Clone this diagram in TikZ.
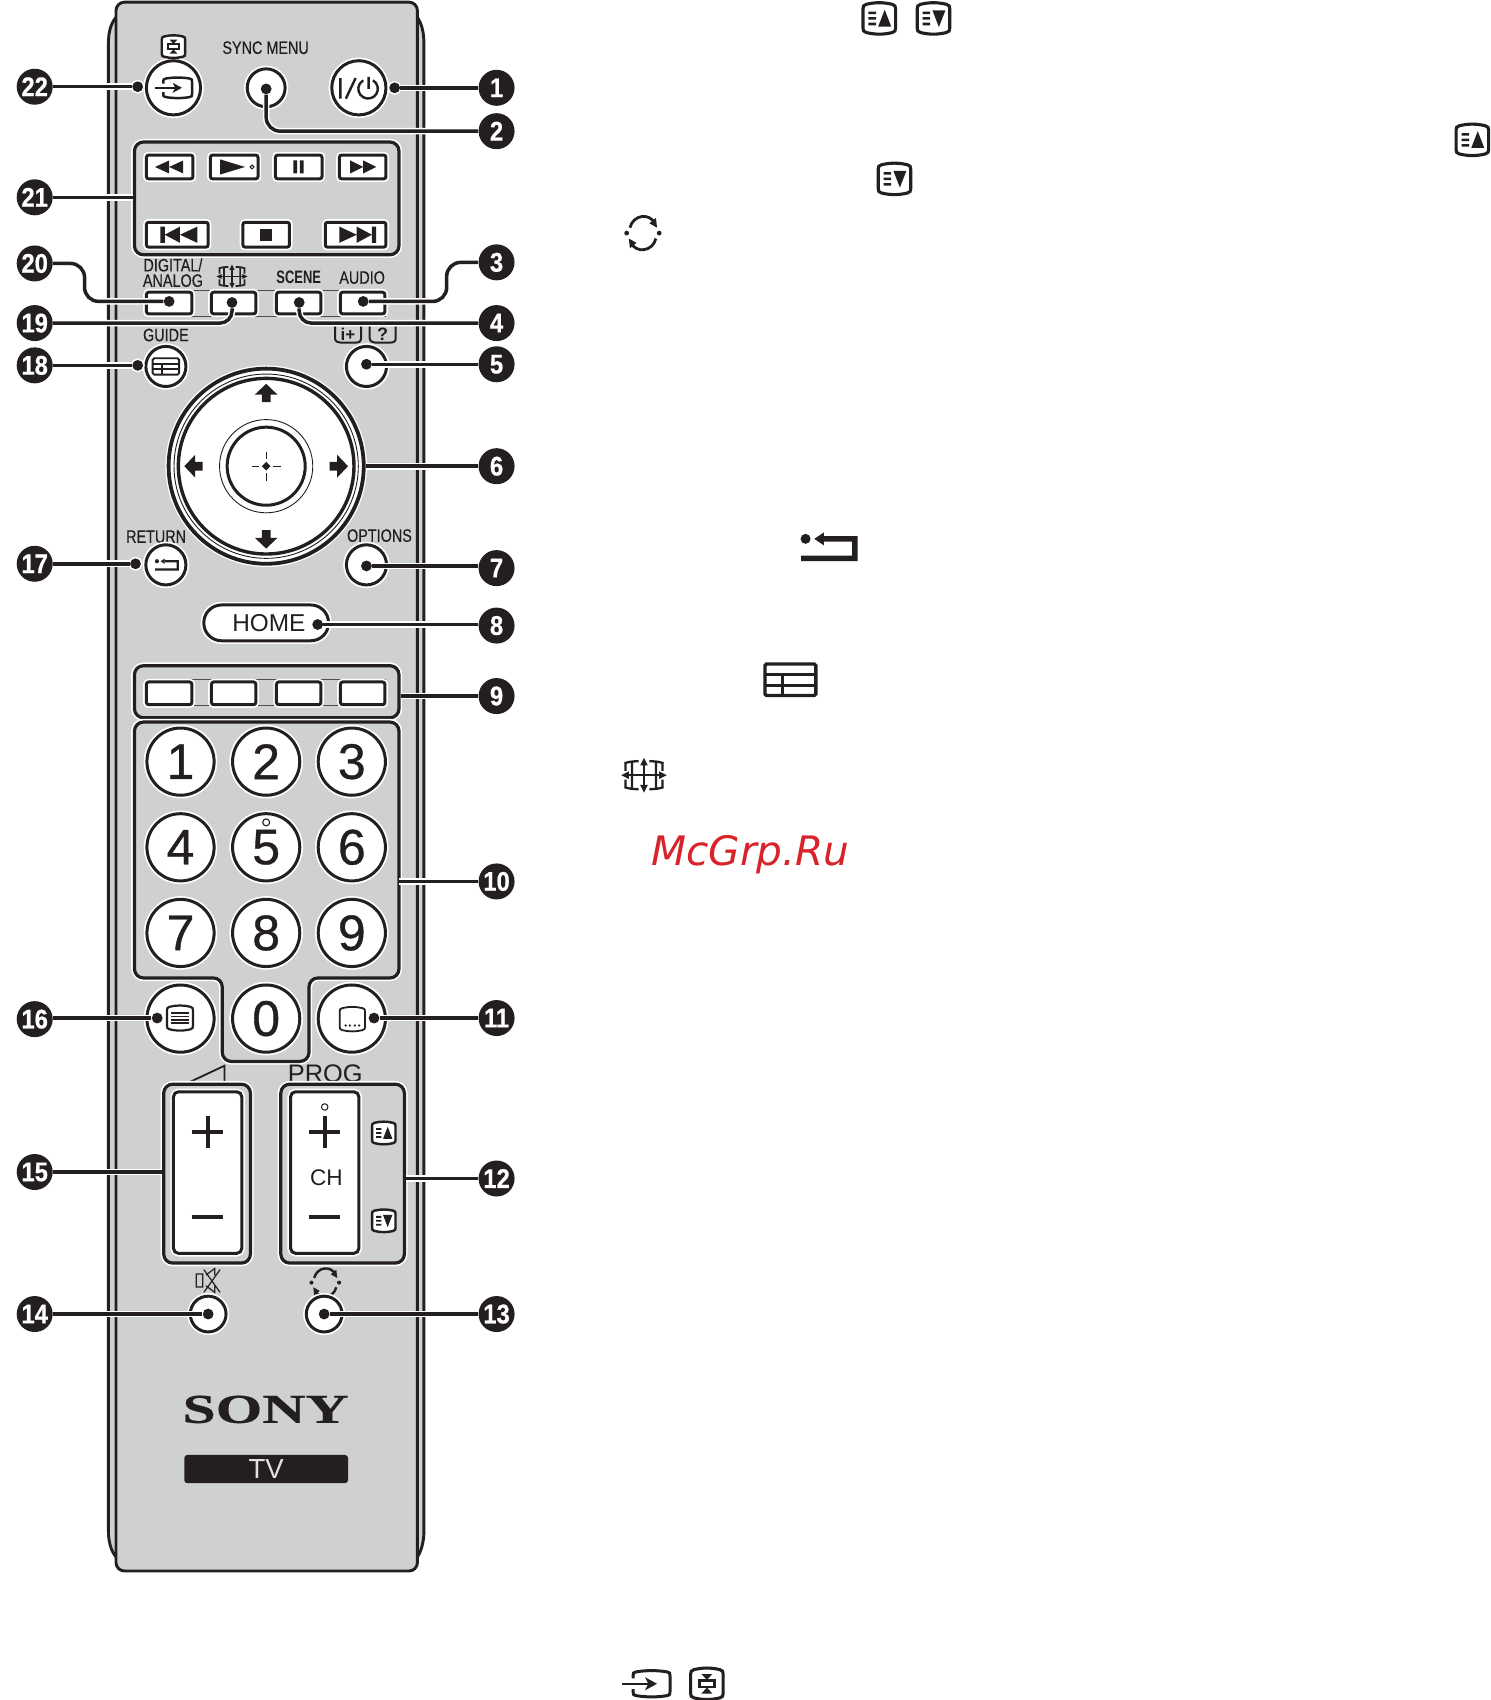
\documentclass[tikz,border=0pt]{standalone}
\usepackage{fontspec}
\setmainfont{Liberation Sans}
\newfontfamily\cond[FakeStretch=0.8,FakeBold=0.35]{Liberation Sans}
\newfontfamily\condb[FakeStretch=0.72]{Liberation Sans Bold}
\newfontfamily\badgef[FakeStretch=0.88,FakeBold=0.6]{Liberation Sans Bold}
\newfontfamily\sonyf[FakeStretch=1.46,FakeBold=0.5]{Liberation Serif Bold}
\newfontfamily\digf[FakeBold=0.7]{Liberation Sans}
\newfontfamily\wmf{DejaVu Sans}
\definecolor{ink}{HTML}{231F20}
\definecolor{bodyg}{HTML}{CFD0D2}
\definecolor{wmred}{HTML}{D8232A}
\newcommand\barrel[1]{\draw[draw=ink,fill=white,#1] (-12,-13) .. controls (-4,-15) and (4,-15) .. (12,-13) .. controls (14.5,-12.5) and (15,-11) .. (15,-9) -- (15,9) .. controls (15,11) and (14.5,12.5) .. (12,13) .. controls (4,15) and (-4,15) .. (-12,13) .. controls (-14.5,12.5) and (-15,11) .. (-15,9) -- (-15,-9) .. controls (-15,-11) and (-14.5,-12.5) .. (-12,-13) -- cycle;}
\tikzset{
  x=0.5422pt,y=-0.5422pt,
  halo/.style={preaction={draw=white,line width=3.2pt}},
  btn/.style={circle,draw=ink,fill=white,line width=1.5pt,minimum size=#1*1.0844pt,inner sep=0pt,halo,font=\fontsize{25}{25}\selectfont\digf,text=ink},
  rb/.style 2 args={rectangle,rounded corners=1.2pt,draw=ink,fill=white,line width=1.5pt,minimum width=#1*0.5422pt,minimum height=#2*0.5422pt,inner sep=0pt,halo},
  panel/.style 2 args={rectangle,rounded corners=4.5pt,draw=ink,fill=bodyg,line width=1.6pt,minimum width=#1*0.5422pt,minimum height=#2*0.5422pt,inner sep=0pt,halo},
  badge/.style={circle,fill=ink,minimum size=18pt,inner sep=0pt,text=white,font=\fontsize{13.5}{13.5}\selectfont\badgef},
  dotn/.style={circle,fill=ink,minimum size=5.4pt,inner sep=0pt,preaction={draw=white,line width=1.6pt}},
  conn/.style={draw=ink,line width=1.75pt,preaction={draw=white,line width=3.3pt}},
  lab/.style={text=ink,inner sep=0pt,font=\fontsize{9}{9.2}\selectfont\cond,align=center},
  sans/.style={text=ink,inner sep=0pt,font=\fontsize{#1}{#1}\selectfont},
  blk/.style={fill=ink,draw=none},
  thinl/.style={draw=ink!80,line width=0.5pt},
  pics/gup/.style={code={\begin{scope}[scale=#1]
    \barrel{line width=#1*1.2pt+0.35pt}
    \fill[ink] (-10,-6.3) rectangle (-3,-3.9) (-10,-1.2) rectangle (-3,1.2) (-10,3.9) rectangle (-3,6.3);
    \fill[ink] (-1,7.5) -- (11,7.5) -- (5,-8) -- cycle;
  \end{scope}}},
  pics/gdown/.style={code={\begin{scope}[scale=#1]
    \barrel{line width=#1*1.2pt+0.35pt}
    \fill[ink] (-10,-6.3) rectangle (-3,-3.9) (-10,-1.2) rectangle (-3,1.2) (-10,3.9) rectangle (-3,6.3);
    \fill[ink] (-1,-7.5) -- (11,-7.5) -- (5,8) -- cycle;
  \end{scope}}},
  pics/gcycle/.style={code={\begin{scope}[scale=#1]
    \draw[ink,line width=#1*1.2pt+0.2pt] (-12,-5) .. controls (-9,-17) and (6,-19) .. (11,-9);
    \draw[ink,line width=#1*1.2pt+0.2pt] (12,5) .. controls (9,17) and (-6,19) .. (-11,9);
    \fill[ink] (13,-5) -- (6,-9) -- (12,-14) -- cycle;
    \fill[ink] (-13,5) -- (-6,9) -- (-12,14) -- cycle;
    \fill[ink] (-15,0) circle[radius=2.2] (15,0) circle[radius=2.2];
  \end{scope}}},
  pics/gret/.style={code={\begin{scope}[scale=#1]
    \fill[ink] (-22,-8) circle[radius=4.6];
    \fill[ink] (-14,-8) -- (-5,-14) -- (-5,-2) -- cycle;
    \fill[ink] (-5,-10.5) -- (26,-10.5) -- (26,12.5) -- (-26,12.5) -- (-26,7.5) -- (21,7.5) -- (21,-5.5) -- (-5,-5.5) -- cycle;
  \end{scope}}},
  pics/gguide/.style={code={\begin{scope}[scale=#1]
    \draw[ink,line width=#1*1.5pt+0.15pt,rounded corners=0.8pt] (-23.5,-14.5) rectangle (23.5,14.5);
    \draw[ink,line width=#1*1.5pt+0.15pt] (-23.5,-5) -- (23.5,-5) (-23.5,5) -- (23.5,5) (-7,-5) -- (-7,14.5);
  \end{scope}}},
  pics/gwide/.style={code={\begin{scope}[scale=#1]
    \draw[ink,line width=#1*0.8pt+0.25pt] (-17,0) -- (17,0) (0,-12) -- (0,12);
    \fill[ink] (-21,0) -- (-14,-3.5) -- (-14,3.5) -- cycle (21,0) -- (14,-3.5) -- (14,3.5) -- cycle;
    \fill[ink] (0,-16) -- (-3.5,-9) -- (3.5,-9) -- cycle (0,16) -- (-3.5,9) -- (3.5,9) -- cycle;
    \draw[ink,line width=#1*0.9pt+0.25pt] (-18,-11) .. controls (-13,-12.5) .. (-5,-13) (18,-11) .. controls (13,-12.5) .. (5,-13)
      (-18,11) .. controls (-13,12.5) .. (-5,13) (18,11) .. controls (13,12.5) .. (5,13)
      (-17,-11) -- (-17,-4) (17,-11) -- (17,-4) (-17,11) -- (-17,4) (17,11) -- (17,4)
      (-11,-12) -- (-11,12) (11,-12) -- (11,12);
  \end{scope}}},
  pics/ginput/.style={code={\begin{scope}[scale=#1]
    \draw[ink,line width=#1*1.2pt+0.3pt] (-12,-5) -- (-12,-8) .. controls (-12,-10) .. (-9,-11) .. controls (0,-12.5) and (10,-12.5) .. (19,-11) .. controls (22,-10) .. (22,-7) -- (22,7) .. controls (22,10) .. (19,11) .. controls (10,12.5) and (0,12.5) .. (-9,11) .. controls (-12,10) .. (-12,8) -- (-12,5);
    \draw[ink,line width=#1*1pt+0.25pt] (-22,0) -- (6,0);
    \fill[ink] (10,0) -- (-1,-6) -- (2,0) -- (-1,6) -- cycle;
  \end{scope}}},
  pics/gselect/.style={code={\begin{scope}[scale=#1]
    \barrel{line width=#1*1.2pt+0.35pt}
    \fill[ink] (-5,-9) -- (5,-9) -- (0,-3.5) -- cycle (-5,9) -- (5,9) -- (0,3.5) -- cycle;
    \draw[ink,line width=#1*1pt+0.3pt] (-7,-3) rectangle (7,3);
  \end{scope}}},
}
\begin{document}
\begin{tikzpicture}
\useasboundingbox (0,0) rectangle (1375,1568);
% body
\draw[draw=ink,fill=bodyg,line width=1.45pt] (107,16) .. controls (102,22) and (100,30) .. (100,40) -- (100,1412) .. controls (100,1421) and (102,1430) .. (107,1436) -- (385,1436) .. controls (389,1430) and (391,1421) .. (391,1412) -- (391,40) .. controls (391,30) and (389,22) .. (385,16) -- cycle;
\draw[draw=ink,fill=bodyg,line width=1.45pt,rounded corners=4.2pt] (107,2) rectangle (385,1449);
% upper buttons
\node[btn=25] (binput) at (160,81) {};
\node[btn=17.5] (bsync) at (245.5,81) {};
\node[btn=25] (bpower) at (331,81) {};
\pic at (160,81) {ginput=0.78};
\pic at (160,43) {gselect=0.72};
\node[lab] (tsync) at (245,44) {SYNC MENU};
\draw[ink,line width=1.2pt] (314,72) -- (314,91) (319,91) -- (328,72) (340,71) -- (340,82);
\draw[ink,line width=1.2pt] (344,74.1) arc[start angle=-60,end angle=240,radius=9];
% panel 21
\node[panel={244}{104}] (p21) at (246,183) {};
\node[rb={43}{22}] (brew) at (156.5,154) {};
\node[rb={44}{22}] (bplay) at (216,154) {};
\node[rb={43}{22}] (bpause) at (275.5,154) {};
\node[rb={43}{22}] (bff) at (334.5,154) {};
\node[rb={57}{23}] (bprev) at (163.5,216.5) {};
\node[rb={43}{23}] (bstop) at (245.5,216.5) {};
\node[rb={56}{23}] (bnext) at (328,216.5) {};
\fill[ink] (143,154) -- (156,148) -- (156,160) -- cycle (156,154) -- (169,148) -- (169,160) -- cycle;
\fill[ink] (203,147) -- (226,154) -- (203,161) -- cycle;
\draw[ink,line width=0.5pt] (232.5,154) circle[radius=1.8];
\fill[ink] (270.5,148) rectangle (274,160) (276.5,148) rectangle (280,160);
\fill[ink] (347,154) -- (335,148) -- (335,160) -- cycle (335,154) -- (323,148) -- (323,160) -- cycle;
\fill[ink] (148,209) rectangle (152,224) (152,216.5) -- (166,209) -- (166,224) -- cycle (166,216.5) -- (182,209) -- (182,224) -- cycle;
\fill[ink] (240,211) rectangle (251,222);
\fill[ink] (347,209) rectangle (343,224) (343,216.5) -- (329,209) -- (329,224) -- cycle (329,216.5) -- (313,209) -- (313,224) -- cycle;
% row of four
\draw[thinl] (156,267.5) -- (356,267.5) (156,292) -- (356,292);
\node[rb={42}{20}] (bda) at (156,279.5) {};
\node[rb={41}{20}] (bwide) at (215.5,279.5) {};
\node[rb={41}{20}] (bscene) at (275.5,279.5) {};
\node[rb={41}{20}] (baudio) at (334.5,279.5) {};
\node[lab] (tda) at (159.5,251.5) {DIGITAL/\\[-1.5pt]ANALOG};
\pic at (214,255) {gwide=0.68};
\node[lab,font=\fontsize{9}{9.5}\selectfont\condb] (tscene) at (275.5,256) {SCENE};
\node[lab] (taudio) at (334,256) {AUDIO};
\node[lab] (tguide) at (153,309) {GUIDE};
\node[btn=18.5] (bguide) at (153,338) {};
\pic at (153,338) {gguide=0.52};
\draw[ink,line width=1pt] (309,301) -- (309,312) .. controls (309,315) and (312,316) .. (314,316) -- (328,316) .. controls (331,316) and (333,315) .. (333,312) -- (333,301);
\draw[ink,line width=1pt] (341,301) -- (341,312) .. controls (341,315) and (344,316) .. (346,316) -- (360,316) .. controls (363,316) and (365,315) .. (365,312) -- (365,301);
\node[sans=8.5,font=\fontsize{8.5}{8.5}\selectfont\bfseries] (ti) at (321,308) {i+};
\node[sans=9,font=\fontsize{9}{9}\selectfont\bfseries] (tq) at (353,308) {?};
\node[btn=18.5] (binfo) at (338,338) {};
% d-pad
\node[btn=90,line width=1.9pt] (dpad) at (245.5,430) {};
\node[circle,draw=ink,line width=0.45pt,minimum size=85*1.0844pt,inner sep=0pt] (dpadb) at (245.5,430) {};
\node[circle,draw=ink,fill=white,line width=1.7pt,minimum size=81*1.0844pt,inner sep=0pt] (dpadc) at (245.5,430) {};
\node[circle,draw=ink,line width=0.45pt,minimum size=43*1.0844pt,inner sep=0pt] (dpadd) at (245.5,430) {};
\node[circle,draw=ink,line width=1.5pt,minimum size=36*1.0844pt,inner sep=0pt] (dpade) at (245.5,430) {};
\fill[ink] (245.5,354) -- (235,364) -- (241.5,364) -- (241.5,371) -- (249.5,371) -- (249.5,364) -- (256,364) -- cycle;
\fill[ink] (245.5,506) -- (235,496) -- (241.5,496) -- (241.5,489) -- (249.5,489) -- (249.5,496) -- (256,496) -- cycle;
\fill[ink] (170,430) -- (180,419.5) -- (180,426) -- (187,426) -- (187,434) -- (180,434) -- (180,440.5) -- cycle;
\fill[ink] (321,430) -- (311,419.5) -- (311,426) -- (304,426) -- (304,434) -- (311,434) -- (311,440.5) -- cycle;
\fill[ink] (245.5,426) -- (249.5,430) -- (245.5,434) -- (241.5,430) -- cycle;
\draw[ink,line width=0.6pt] (232,430) -- (239,430) (252,430) -- (259,430) (245.5,416.5) -- (245.5,423.5) (245.5,436.5) -- (245.5,443.5);
% return / options
\node[lab] (tret) at (144,495) {RETURN};
\node[lab] (topt) at (350,494) {OPTIONS};
\node[btn=18.5] (bret) at (153,521) {};
\pic at (154,521) {gret=0.42};
\node[btn=18.5] (bopt) at (338,521) {};
\node[btn=16.5,rectangle,rounded corners=8.8pt,minimum width=115*0.5422pt,minimum height=33*0.5422pt] (bhome) at (245.5,574.5) {};
\node[sans=12.2] (thome) at (248,574.5) {HOME};
% panel 9
\node[panel={244}{48}] (p9) at (246,638) {};
\draw[thinl] (156,627) -- (356,627) (156,651) -- (356,651);
\node[rb={42}{21}] (bred) at (156,639.5) {};
\node[rb={41}{21}] (bgreen) at (215.5,639.5) {};
\node[rb={41}{21}] (byellow) at (275.5,639.5) {};
\node[rb={41}{21}] (bblue) at (334.5,639.5) {};
% number panel
\draw[draw=ink,fill=bodyg,line width=1.6pt,rounded corners=4.5pt,halo] (124,666) -- (368,666) -- (368,902) -- (285,902) -- (285,979) -- (205,979) -- (205,902) -- (124,902) -- cycle;
\coordinate (p10) at (368,813);
\foreach \n/\px/\py in {1/166.5/702.5,2/245.5/702.5,3/324.5/702.5,4/166.5/781.5,5/245.5/781.5,6/324.5/781.5,7/166.5/860.5,8/245.5/860.5,9/324.5/860.5,0/245.5/939.5}{
  \node[btn=31] (d\n) at (\px,\py) {\n};
}
\draw[ink,line width=0.55pt] (245.5,758.5) circle[radius=3.2];
\node[btn=31] (btxt) at (166.5,939.5) {};
\node[btn=31] (bsub) at (324.5,939.5) {};
\begin{scope}[shift={(166,939)},scale=0.8]
\barrel{line width=1.1pt}
\draw[ink,line width=0.8pt] (-10,-6) -- (10,-6) (-10,-2) -- (10,-2) (-10,2) -- (10,2) (-10,6) -- (10,6);
\end{scope}
\begin{scope}[shift={(325,940)},scale=0.78]
\barrel{line width=0.9pt}
\fill[ink] (-8,7.5) circle[radius=1.5] (-3,7.5) circle[radius=1.5] (3,7.5) circle[radius=1.5] (8,7.5) circle[radius=1.5];
\end{scope}
% volume / channel
\draw[ink,line width=0.9pt] (175,998) -- (207,983) -- (207,998);
\node[sans=12.7] (tprog) at (300,990) {PROG};
\node[panel={80}{165}] (pvol) at (191,1082.5) {};
\node[panel={114}{165}] (pch) at (316,1082.5) {};
\node[rb={63}{149},rounded corners=2.5pt] (bvol) at (191.5,1081.5) {};
\node[rb={63}{149},rounded corners=2.5pt] (bch) at (299.5,1081.5) {};
\draw[ink,line width=1.9pt] (177,1044) -- (206,1044) (191.5,1029.5) -- (191.5,1058.5) (177,1122.5) -- (206,1122.5);
\draw[ink,line width=1.9pt] (285,1044) -- (314,1044) (299.5,1029.5) -- (299.5,1058.5) (285,1122.5) -- (314,1122.5);
\draw[ink,line width=0.5pt] (299.5,1021) circle[radius=3];
\node[sans=11.3] (tch) at (301,1086) {CH};
\pic at (354,1045) {gup=0.72};
\pic at (354,1126) {gdown=0.72};
% mute / jump
\draw[ink,line width=0.6pt] (181,1175) rectangle (187,1187) (188,1171) -- (203,1192) (203,1171) -- (188,1192) (190,1176) -- (198,1170) -- (198,1176) (190,1186) -- (198,1192) -- (198,1186);
\pic at (300,1183) {gcycle=0.85};
\node[btn=16.5] (bmute) at (192,1212) {};
\node[btn=16.5] (bjump) at (299,1212) {};
% logo
\node[text=ink,inner sep=0pt,font=\fontsize{20.5}{20.5}\selectfont\sonyf] (sony) at (245,1300) {SONY};
\node[fill=ink,rounded corners=1.5pt,minimum width=151*0.5422pt,minimum height=26*0.5422pt,inner sep=0pt,text=white!88!black,font=\fontsize{13.8}{13.8}\selectfont] (tvbox) at (245.5,1355) {TV};
% dots
\foreach \nm/\px/\py in {22/127/80,1/364/81,2/245.5/82,20/156/278,19/214/279,3/335/278,4/276/279,5/338/336,18/127/337,7/338/522,17/125/520,8/293/576,11/345/939,16/145/939,13/299/1212,14/192/1212}{
  \node[dotn] (p\nm) at (\px,\py) {};
}
% badges
\foreach \nm/\py in {1/81,2/121,3/242,4/298,5/336,6/430,7/524,8/577,9/642,10/813,11/939,12/1087,13/1212}{
  \node[badge] (n\nm) at (458,\py) {\nm};
}
\foreach \nm/\py in {14/1212,15/1081,16/940,17/520,18/337,19/298,20/243,21/182,22/80}{
  \node[badge] (n\nm) at (32,\py) {\nm};
}
% connectors
\draw[conn] (p22) -- (p22 -| n22.east);
\draw[conn] (p1) -- (p1 -| n1.west);
\draw[conn,rounded corners=7pt] (p2) |- (n2);
\draw[conn] (n21.east) -- (n21.east -| p21.west);
\draw[conn,rounded corners=7pt] (n20) -- (78,243) |- (p20);
\draw[conn,rounded corners=6pt] (n19) -| (p19);
\draw[conn,rounded corners=7pt] (n3) -- (412,242) |- (p3);
\draw[conn,rounded corners=6pt] (n4) -| (p4);
\draw[conn] (p5) -- (p5 -| n5.west);
\draw[conn] (p18) -- (p18 -| n18.east);
\draw[conn] (dpad.east) -- (n6.west);
\draw[conn] (p7) -- (p7 -| n7.west);
\draw[conn] (p17) -- (p17 -| n17.east);
\draw[conn] (p8) -- (p8 -| n8.west);
\draw[conn] (n9.west) -- (n9.west -| p9.east);
\draw[conn] (p10) -- (p10 -| n10.west);
\draw[conn] (p11) -- (p11 -| n11.west);
\draw[conn] (n12.west) -- (n12.west -| pch.east);
\draw[conn] (p13) -- (p13 -| n13.west);
\draw[conn] (p14) -- (p14 -| n14.east);
\draw[conn] (n15.east) -- (n15.east -| pvol.west);
\draw[conn] (p16) -- (p16 -| n16.east);
% legend icons
\pic at (811,17) {gup=1};
\pic at (861,17) {gdown=1};
\pic at (1358,129) {gup=1};
\pic at (825,165) {gdown=1};
\pic at (593,215) {gcycle=1};
\pic at (765,505) {gret=1};
\pic at (729,627) {gguide=1};
\pic at (594,715) {gwide=1};
\pic at (596,1553) {ginput=1};
\pic at (652,1553) {gselect=1};
\node[text=wmred,inner sep=0pt,font=\fontsize{20.3}{20.3}\selectfont\wmf\itshape] (wm) at (692,788) {McGrp.Ru};
\end{tikzpicture}
\end{document}
